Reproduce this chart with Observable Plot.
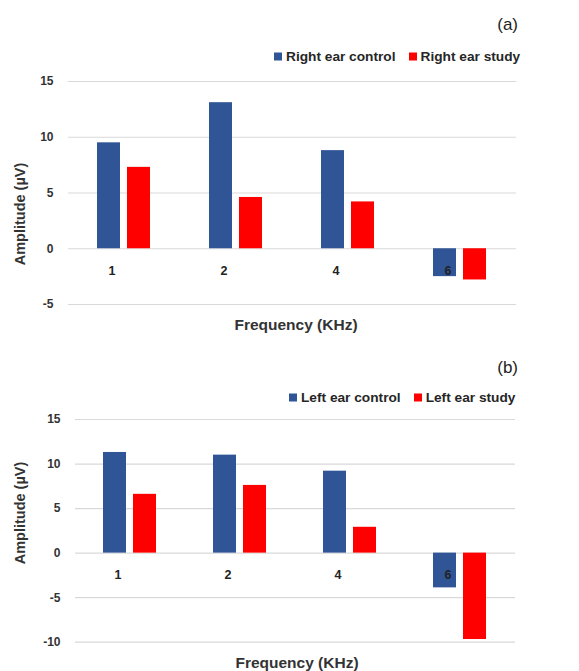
<!DOCTYPE html>
<html>
<head>
<meta charset="utf-8">
<script src="https://cdn.jsdelivr.net/npm/d3@7"></script>
<script src="https://cdn.jsdelivr.net/npm/@observablehq/plot@0.6"></script>
<style>
  html, body { margin: 0; padding: 0; background: #fff; }
  #chart { position: relative; width: 579px; height: 671px; background: #fff; font-family: "Liberation Sans", Arial, sans-serif; color: #262626; }
  .abs { position: absolute; white-space: nowrap; }
  .tag { font-size: 17px; font-weight: normal; color: #222; transform: translate(-100%, -50%); }
  .legend { font-size: 13.7px; font-weight: bold; transform: translateY(-50%); display: flex; align-items: center; }
  .legend .sw { width: 8px; height: 8px; display: inline-block; margin-right: 4px; }
  .legend .item { display: flex; align-items: center; margin-right: 13px; }
  .legend .item:last-child { margin-right: 0; }
  .xlab { font-size: 15.5px; font-weight: bold; transform: translate(-50%, -50%); color: #333; }
  .ylab { font-size: 14.5px; font-weight: bold; transform: translate(-50%, -50%) rotate(-90deg); color: #333; }
  svg { position: absolute; left: 0; }
</style>
</head>
<body>
<div id="chart"></div>
<script>
// ---- data ----
const freqs = ["1", "2", "4", "6"];
const rightControl = [9.5, 13.1, 8.8, -2.5];
const rightStudy = [7.3, 4.6, 4.2, -2.8];
const leftControl = [11.3, 11.0, 9.2, -3.9];
const leftStudy = [6.6, 7.6, 2.9, -9.7];
const yTicksA = [-5, 0, 5, 10, 15];
const yTicksB = [-10, -5, 0, 5, 10, 15];
const seriesKeys = ["control", "study"];
const seriesColors = ["#2F5597", "#FF0000"];
const legendA = ["Right ear control", "Right ear study"];
const legendB = ["Left ear control", "Left ear study"];

const chart = document.getElementById("chart");

function rows(control, study) {
  const out = [];
  freqs.forEach((f, i) => {
    out.push({freq: f, series: "control", value: control[i]});
    out.push({freq: f, series: "study", value: study[i]});
  });
  return out;
}

function panel({data, ticks, top, height, mt, mb, ml, mr}) {
  const svg = Plot.plot({
    width: 579,
    height,
    marginTop: mt,
    marginBottom: mb,
    marginLeft: ml,
    marginRight: mr,
    style: {background: "transparent", fontFamily: "'Liberation Sans', Arial, sans-serif"},
    fx: {domain: freqs, padding: 0, axis: null},
    x: {domain: seriesKeys, paddingInner: 0.22, paddingOuter: 0.92, axis: null},
    y: {domain: [ticks[0], ticks[ticks.length - 1]], axis: null},
    color: {domain: seriesKeys, range: seriesColors},
    marks: [
      Plot.ruleY(ticks, {stroke: "#d9d9d9", strokeWidth: 1.2}),
      Plot.axisY(ticks, {
        tickSize: 0, tickPadding: 15, tickFormat: d => String(d),
        fontSize: 12, fontWeight: "bold", fill: "#333", label: null
      }),
      Plot.barY(data, {fx: "freq", x: "series", y1: 0, y2: "value", fill: "series"}),
      Plot.text(freqs, {
        fx: d => d, x: () => "control", y: () => 0, text: d => d,
        dy: 22, dx: 3, fontSize: 12.5, fontWeight: "bold", fill: "#222"
      })
    ]
  });
  svg.style.top = top + "px";
  chart.appendChild(svg);
}

function addDiv(cls, html, left, top) {
  const d = document.createElement("div");
  d.className = "abs " + cls;
  d.innerHTML = html;
  d.style.left = left + "px";
  d.style.top = top + "px";
  chart.appendChild(d);
  return d;
}

function legend(labels, left, top) {
  const html = labels.map((l, i) =>
    `<span class="item"><span class="sw" style="background:${seriesColors[i]}"></span>${l}</span>`
  ).join("");
  addDiv("legend", html, left, top);
}

// Panel (a)
panel({data: rows(rightControl, rightStudy), ticks: yTicksA, top: 70, height: 260, mt: 11, mb: 26, ml: 68, mr: 63});
addDiv("tag", "(a)", 518, 25);
legend(legendA, 274, 56);
addDiv("xlab", "Frequency (KHz)", 296, 325);
addDiv("ylab", "Amplitude (µV)", 20, 214);

// Panel (b)
panel({data: rows(leftControl, leftStudy), ticks: yTicksB, top: 405, height: 245, mt: 14, mb: 8.3, ml: 75, mr: 64});
addDiv("tag", "(b)", 518, 368);
legend(legendB, 289, 397);
addDiv("xlab", "Frequency (KHz)", 297, 663);
addDiv("ylab", "Amplitude (µV)", 20, 513);
</script>
</body>
</html>
